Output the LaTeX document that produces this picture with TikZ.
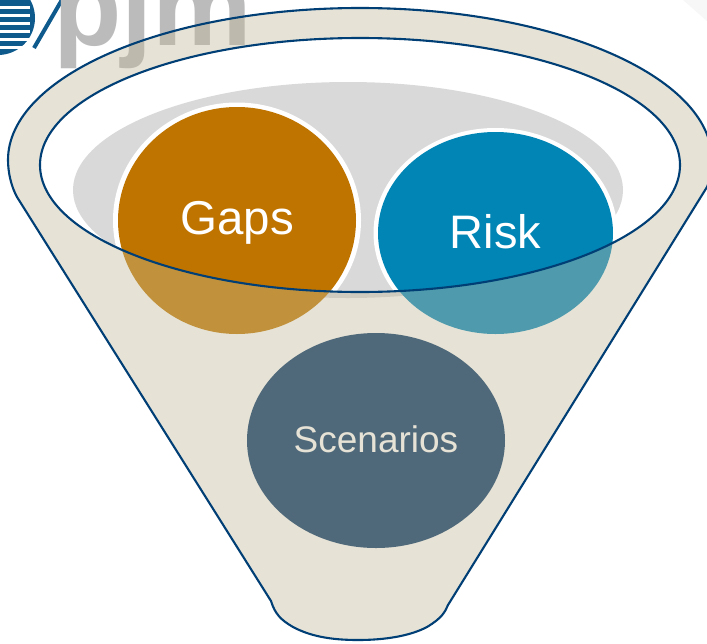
\documentclass[tikz,border=0pt]{standalone}
\usepackage{fontspec}
\setmainfont{Liberation Sans}
\usetikzlibrary{shapes.geometric}
\definecolor{funnelc}{HTML}{E6E3D6}
\definecolor{linec}{HTML}{003F75}
\definecolor{greyc}{HTML}{D9D9D9}
\definecolor{greyd}{HTML}{CFCCBF}
\definecolor{orangec}{HTML}{C07400}
\definecolor{oranged}{HTML}{C1913C}
\definecolor{bluec}{HTML}{0085B5}
\definecolor{blued}{HTML}{4F9BAD}
\definecolor{slatec}{HTML}{50697A}
\definecolor{logoc}{HTML}{BBBBBB}
\definecolor{logod}{HTML}{BDBAAD}
\definecolor{globec}{HTML}{0F5A8C}
\def\funnelpath{(271,601) -- (17,197) .. controls (11,186) and (8,172) .. (8,160) .. controls (8,76) and (166,8) .. (360,8) .. controls (554,8) and (712,76) .. (712,160) .. controls (712,170) and (711,178) .. (707,187) -- (448,605) .. controls (445,612) and (442,618) .. (427,627) .. controls (410,636) and (385,640) .. (358,640) .. controls (330,640) and (310,636) .. (293,627) .. controls (281,620) and (275,614) .. (271,601) -- cycle}
\def\innerpath{(360,165) ellipse [x radius=320, y radius=127]}
\def\greypath{(348,190) ellipse [x radius=275, y radius=108]}
\def\gapspath{(237,220.5) ellipse [x radius=119, y radius=113.5]}
\def\gapsring{(237,220.5) ellipse [x radius=124, y radius=118]}
\def\riskpath{(495.5,233) ellipse [x radius=117.5, y radius=101]}
\def\riskring{(495.5,233) ellipse [x radius=122, y radius=105]}
\newcommand{\logotext}[1]{\node[logotext, text=#1] at (53,45) {pjm};}
\tikzset{
  logotext/.style={anchor=base west, inner sep=0pt, font=\fontsize{112}{112}\selectfont\bfseries},
  label/.style={inner sep=0pt, text=white},
  outline/.style={draw=linec, line width=2.1pt},
  globe/.style={fill=globec},
}
\begin{document}
\begin{tikzpicture}[x=1pt,y=-1pt]
\useasboundingbox (0,0) rectangle (707,643);
\begin{scope}
\clip (0,0) rectangle (707,643);
\fill[white] (0,0) rectangle (707,643);
% logo
\fill[globe] (-2,18) circle [radius=37];
\foreach \yy in {6,14,22,30,38,46}
  \fill[white] (0,\yy) rectangle (30,\yy+2.5);
\draw[globec, line width=4pt] (34,48) -- (63,-2);
\logotext{logoc}
% faint corner
\fill[black!3] (683,0) -- (707,0) -- (707,21) -- cycle;
% funnel body
\fill[funnelc] \funnelpath;
\begin{scope}
  \clip \funnelpath;
  \logotext{logod}
  \fill[greyd] \greypath;
  \fill[oranged] \gapspath;
  \fill[blued] \riskpath;
\end{scope}
% open mouth
\fill[white] \innerpath;
\begin{scope}
  \clip \innerpath;
  \logotext{logoc}
  \fill[greyc] \greypath;
  \fill[white] \gapsring;
  \fill[orangec] \gapspath;
  \fill[white] \riskring;
  \fill[bluec] \riskpath;
\end{scope}
\draw[outline] \funnelpath;
\draw[outline] \innerpath;
\fill[slatec] (376,440.5) ellipse [x radius=129, y radius=107.5];
\end{scope}
\node[label, font=\fontsize{47.5}{48}\selectfont] (gaps) at (237,223) {Gaps};
\node[label, font=\fontsize{47}{48}\selectfont] (risk) at (495.5,232) {Risk};
\node[label, text=funnelc, font=\fontsize{37}{38}\selectfont] (scen) at (376,439) {Scenarios};
\end{tikzpicture}
\end{document}
